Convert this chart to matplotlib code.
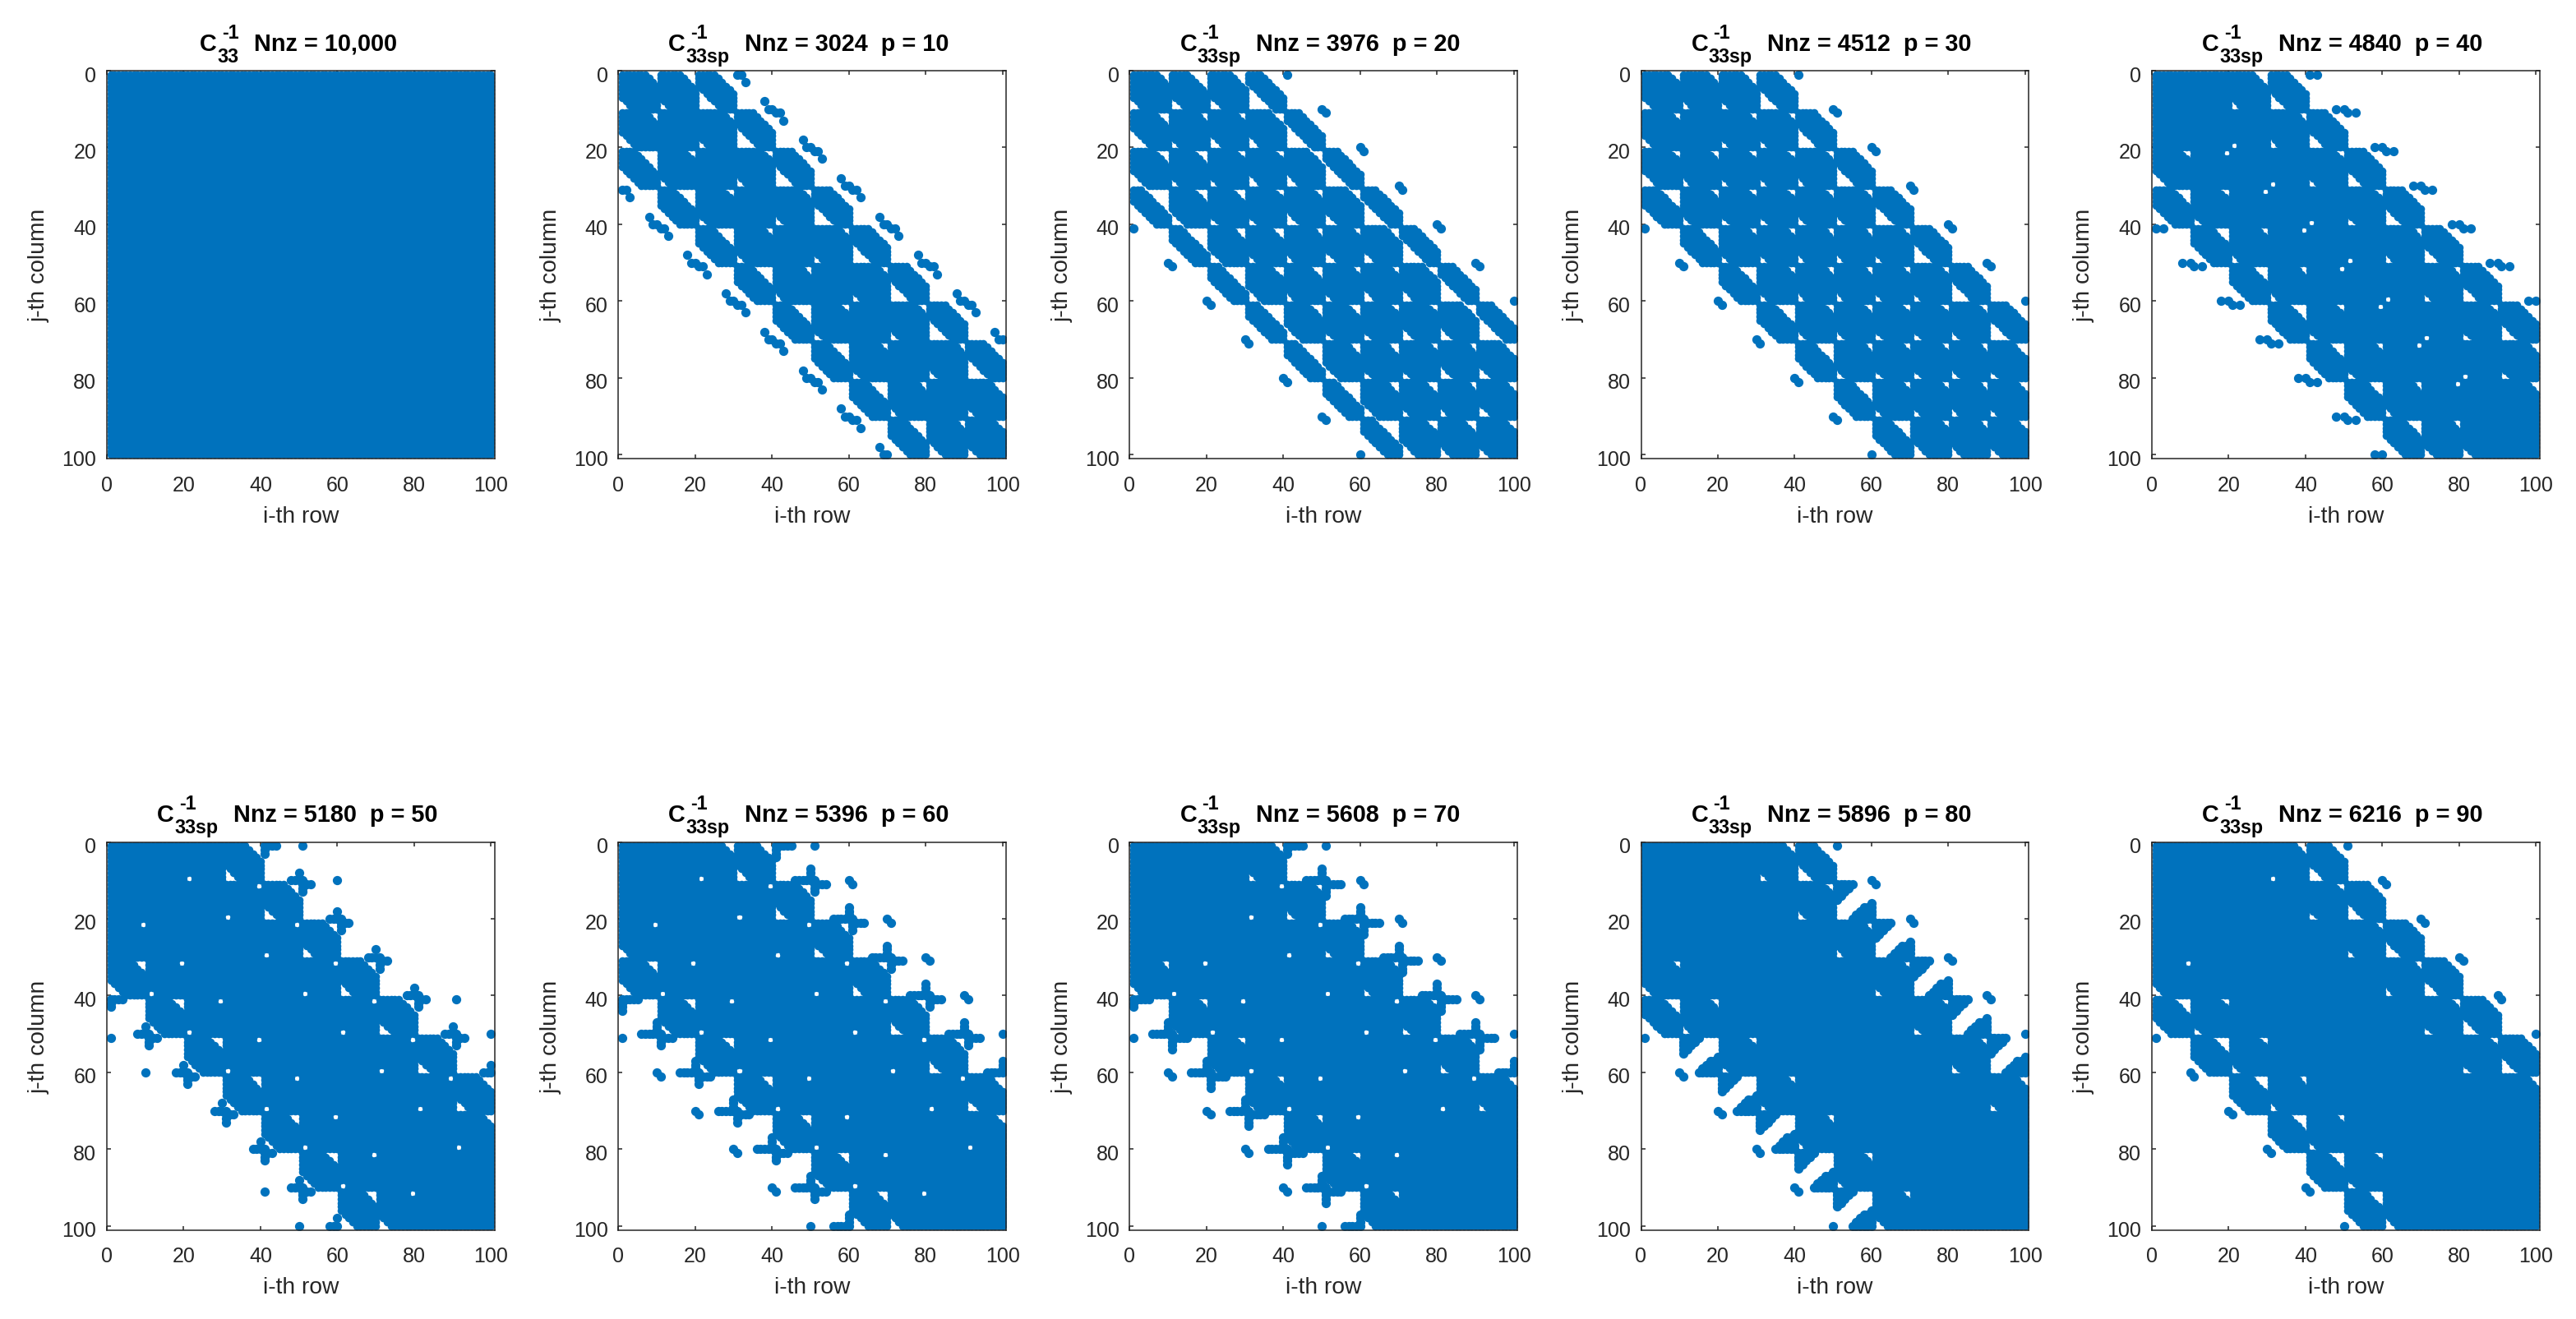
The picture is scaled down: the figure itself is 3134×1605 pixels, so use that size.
import numpy as np
import matplotlib
matplotlib.use("Agg")
import matplotlib.pyplot as plt
from matplotlib.transforms import ScaledTranslation

plt.rcParams['font.family'] = ['Liberation Sans', 'DejaVu Sans']

# for every row the last filled column of the band,
# triangles cut out of it (column, row, size), small square holes (column, row),
# extra runs (row, first column, last column) and lone points (column, row).
# band and holes are symmetric, the runs and points come back below the
# diagonal as the same shape moved down-left by a fixed step
p_values = [10, 20, 30, 40, 50, 60, 70, 80, 90]
nnz_values = [3024, 3976, 4512, 4840, 5180, 5396, 5608, 5896, 6216]

edge_full = [100] * 100

edge_p10 = [25, 26, 27, 28, 29, 30, 30, 30, 30, 30,
            35, 36, 37, 38, 39, 40, 40, 40, 40, 40,
            45, 46, 47, 48, 49, 50, 50, 50, 50, 50,
            55, 56, 57, 58, 59, 60, 60, 60, 60, 60,
            65, 66, 67, 68, 69, 70, 70, 70, 70, 70,
            75, 76, 77, 78, 79, 80, 80, 80, 80, 80,
            85, 86, 87, 88, 89, 90, 90, 90, 90, 90,
            95, 96, 97, 98, 99, 100, 100, 100, 100, 100] + [100] * 20
left_p10 = [(21, 10, 6), (31, 20, 6), (41, 30, 6), (51, 40, 6), (61, 50, 6), (71, 60, 6), (81, 70, 6), (91, 80, 6),
            (11, 10, 3), (21, 20, 3), (31, 30, 3), (41, 40, 3), (51, 50, 3), (61, 60, 3), (71, 70, 3), (81, 80, 3), (91, 90, 3)]
right_p10 = [(10, 1, 3), (20, 1, 4),
             (30, 11, 3), (40, 21, 3), (50, 31, 3), (60, 41, 3), (70, 51, 3), (80, 61, 3), (90, 71, 3), (100, 81, 4), (100, 91, 3)]
dots_p10 = [(31, 1), (32, 1), (33, 3),
            (38, 8), (39, 10), (40, 10), (41, 11), (42, 11), (43, 13),
            (48, 18), (49, 20), (50, 20), (51, 21), (52, 21), (53, 23),
            (58, 28), (59, 30), (60, 30), (61, 31), (62, 31), (63, 33),
            (68, 38), (69, 40), (70, 40), (71, 41), (72, 41), (73, 43),
            (78, 48), (79, 50), (80, 50), (81, 51), (82, 51), (83, 53),
            (88, 58), (89, 60), (90, 60), (91, 61), (92, 61), (93, 63),
            (98, 68), (99, 70), (100, 70)]

edge_p20 = [34, 35, 36, 37, 38, 39, 40, 40, 40, 40,
            44, 45, 46, 47, 48, 49, 50, 50, 50, 50,
            54, 55, 56, 57, 58, 59, 60, 60, 60, 60,
            64, 65, 66, 67, 68, 69, 70, 70, 70, 70,
            74, 75, 76, 77, 78, 79, 80, 80, 80, 80,
            84, 85, 86, 87, 88, 89, 90, 90, 90, 90,
            94, 95, 96, 97, 98, 99, 100, 100, 100, 100] + [100] * 30
left_p20 = [(31, 10, 7), (41, 20, 7), (51, 30, 7), (61, 40, 7), (71, 50, 7), (81, 60, 7), (91, 70, 7),
            (21, 10, 4), (31, 20, 4), (41, 30, 4), (51, 40, 4), (61, 50, 4), (71, 60, 4), (81, 70, 4), (91, 80, 4),
            (11, 10, 4), (21, 20, 4), (31, 30, 4), (41, 40, 4), (51, 50, 4), (61, 60, 4), (71, 70, 4), (81, 80, 4), (91, 90, 4)]
right_p20 = [(10, 1, 3), (20, 1, 5), (30, 1, 4),
             (40, 11, 4), (50, 21, 4), (60, 31, 4), (70, 41, 4), (80, 51, 4), (90, 61, 4), (100, 71, 4),
             (30, 11, 3), (40, 21, 3), (50, 31, 3), (60, 41, 3), (70, 51, 3), (80, 61, 3), (90, 71, 3), (100, 81, 3),
             (20, 11, 3), (30, 21, 3), (40, 31, 3), (50, 41, 3), (60, 51, 3), (70, 61, 3), (80, 71, 3), (90, 81, 3), (100, 91, 3)]
dots_p20 = [(41, 1), (50, 10), (51, 11), (60, 20), (61, 21), (70, 30), (71, 31),
            (80, 40), (81, 41), (90, 50), (91, 51), (100, 60)]

edge_p30 = [35, 36, 37, 38, 39, 40, 40, 40, 40, 40,
            45, 46, 47, 48, 49, 50, 50, 50, 50, 50,
            55, 56, 57, 58, 59, 60, 60, 60, 60, 60,
            65, 66, 67, 68, 69, 70, 70, 70, 70, 70,
            75, 76, 77, 78, 79, 80, 80, 80, 80, 80,
            85, 86, 87, 88, 89, 90, 90, 90, 90, 90,
            95, 96, 97, 98, 99, 100, 100, 100, 100, 100] + [100] * 30
left_p30 = [(31, 10, 6), (41, 20, 6), (51, 30, 6), (61, 40, 6), (71, 50, 6), (81, 60, 6), (91, 70, 6),
            (21, 10, 3), (31, 20, 3), (41, 30, 3), (51, 40, 3), (61, 50, 3), (71, 60, 3), (81, 70, 3), (91, 80, 3),
            (11, 10, 3), (21, 20, 3), (31, 30, 3), (41, 40, 3), (51, 50, 3), (61, 60, 3), (71, 70, 3), (81, 80, 3), (91, 90, 3)]
right_p30 = [(10, 1, 3), (20, 1, 3), (30, 1, 4),
             (40, 11, 3), (50, 21, 3), (60, 31, 3), (70, 41, 3), (80, 51, 3), (90, 61, 3), (100, 71, 4),
             (30, 11, 3), (40, 21, 3), (50, 31, 3), (60, 41, 3), (70, 51, 3), (80, 61, 3), (90, 71, 3), (100, 81, 3),
             (30, 21, 3), (40, 31, 3), (50, 41, 3), (60, 51, 3), (70, 61, 3), (80, 71, 3), (90, 81, 3), (100, 91, 3)]
dots_p30 = [(41, 1), (50, 10), (51, 11), (60, 20), (61, 21), (70, 30), (71, 31),
            (80, 40), (81, 41), (90, 50), (91, 51), (100, 60)]

edge_p40 = [35, 36, 37, 38, 39, 40, 40, 40, 40, 40,
            45, 46, 47, 48, 49, 50, 50, 50, 50, 50,
            55, 56, 57, 58, 59, 60, 60, 60, 60, 60,
            65, 66, 67, 68, 69, 70, 70, 70, 70, 70,
            75, 76, 77, 78, 79, 80, 80, 80, 80, 80,
            85, 86, 87, 88, 89, 90, 90, 90, 90, 90,
            95, 96, 97, 98, 99, 100, 100, 100, 100, 100] + [100] * 30
left_p40 = [(31, 10, 5), (41, 20, 5), (51, 30, 5), (61, 40, 5), (71, 50, 5), (81, 60, 5), (91, 70, 5),
            (21, 10, 3), (31, 20, 3), (41, 30, 3), (51, 40, 3), (61, 50, 3), (71, 60, 3), (81, 70, 3), (91, 80, 3)]
right_p40 = [(30, 1, 4),
             (40, 11, 3), (50, 21, 3), (60, 31, 3), (70, 41, 3), (80, 51, 3), (90, 61, 3), (100, 71, 3), (100, 81, 3)]
square_p40 = [(21, 20), (31, 30), (41, 40), (51, 50), (61, 60), (71, 70), (81, 80)]
dots_p40 = [(41, 1), (43, 1), (48, 10), (50, 10), (51, 11), (53, 11),
            (58, 20), (60, 20), (61, 21), (63, 21), (68, 30), (70, 30), (71, 31), (73, 31),
            (78, 40), (80, 40), (81, 41), (83, 41), (88, 50), (90, 50), (91, 51), (93, 51),
            (98, 60), (100, 60)]

edge_p50 = [40] * 10 + [50] * 10 + [60] * 10 + [70] * 10 + [80] * 10 + [90] * 10 + [100] * 40
left_p50 = [(31, 10, 4), (41, 20, 4), (51, 30, 4), (61, 40, 4), (71, 50, 4), (81, 60, 4), (91, 70, 4)]
right_p50 = [(40, 1, 4),
             (50, 11, 4), (60, 21, 4), (70, 31, 4), (80, 41, 4), (90, 51, 4), (100, 61, 4), (100, 71, 3)]
square_p50 = [(21, 10), (31, 20), (41, 30), (51, 40), (61, 50), (71, 60), (81, 70), (91, 80),
              (39, 12), (49, 22), (59, 32), (69, 42), (79, 52), (89, 62)]
runs_p50 = [(1, 41, 44), (2, 41, 41), (3, 41, 41),
            (8, 50, 50), (10, 48, 51), (11, 51, 53), (12, 51, 51), (13, 51, 51),
            (18, 60, 60), (20, 58, 61), (21, 61, 63), (22, 61, 61), (23, 61, 61),
            (28, 70, 70), (30, 68, 71), (31, 71, 73), (32, 71, 71), (33, 71, 71),
            (38, 80, 80), (40, 78, 81), (41, 81, 83), (42, 81, 81), (43, 81, 81),
            (48, 90, 90), (50, 88, 91), (51, 91, 93), (52, 91, 91), (53, 91, 91),
            (58, 100, 100), (60, 98, 100)]
dots_p50 = [(51, 1), (60, 10), (91, 41), (100, 50)]

edge_p60 = [40] * 10 + [50] * 10 + [60] * 10 + [70] * 10 + [80] * 10 + [90] * 10 + [100] * 40
left_p60 = [(31, 10, 4), (41, 20, 4), (51, 30, 4), (61, 40, 4), (71, 50, 4), (81, 60, 4), (91, 70, 4)]
right_p60 = [(30, 1, 3), (40, 1, 4),
             (50, 11, 4), (60, 21, 4), (70, 31, 4), (80, 41, 4), (90, 51, 4), (100, 61, 4), (100, 71, 3)]
square_p60 = [(21, 10), (31, 20), (41, 30), (51, 40), (61, 50), (71, 60), (81, 70), (91, 80),
              (39, 12), (49, 22), (59, 32), (69, 42), (79, 52), (89, 62)]
runs_p60 = [(1, 41, 45), (2, 41, 41), (3, 41, 41), (4, 41, 41),
            (7, 50, 50), (8, 50, 50), (9, 50, 50), (10, 46, 51), (11, 51, 54), (12, 51, 51), (13, 51, 51),
            (17, 60, 60), (18, 60, 60), (19, 60, 60), (20, 56, 61), (21, 61, 64), (22, 61, 61), (23, 61, 61),
            (27, 70, 70), (28, 70, 70), (29, 70, 70), (30, 66, 71), (31, 71, 74), (32, 71, 71), (33, 71, 71),
            (37, 80, 80), (38, 80, 80), (39, 80, 80), (40, 76, 81), (41, 81, 84), (42, 81, 81), (43, 81, 81),
            (47, 90, 90), (48, 90, 90), (49, 90, 90), (50, 86, 91), (51, 91, 94), (52, 91, 91), (53, 91, 91),
            (57, 100, 100), (58, 100, 100), (59, 100, 100), (60, 96, 100)]
dots_p60 = [(51, 1), (60, 10), (61, 11), (70, 20), (71, 21), (80, 30), (81, 31),
            (90, 40), (91, 41), (100, 50)]

edge_p70 = [40] * 10 + [50] * 10 + [60] * 10 + [70] * 10 + [80] * 10 + [90] * 10 + [100] * 40
left_p70 = [(31, 10, 3), (41, 20, 3), (51, 30, 3), (61, 40, 3), (71, 50, 3), (81, 60, 3), (91, 70, 3)]
right_p70 = [(40, 1, 3),
             (50, 11, 3), (60, 21, 3), (70, 31, 3), (80, 41, 3), (90, 51, 3), (100, 61, 3)]
square_p70 = [(31, 20), (41, 30), (51, 40), (61, 50), (71, 60), (81, 70),
              (39, 12), (49, 22), (59, 32), (69, 42), (79, 52), (89, 62)]
runs_p70 = [(1, 41, 45), (2, 41, 41), (3, 41, 41),
            (7, 50, 50), (8, 50, 50), (9, 50, 50), (10, 46, 51), (11, 51, 55), (12, 51, 51), (13, 51, 51), (14, 51, 51),
            (17, 60, 60), (18, 60, 60), (19, 60, 60), (20, 56, 61), (21, 61, 65), (22, 61, 61), (23, 61, 61), (24, 61, 61),
            (27, 70, 70), (28, 70, 70), (29, 70, 70), (30, 66, 71), (31, 71, 75), (32, 71, 71), (33, 71, 71), (34, 71, 71),
            (37, 80, 80), (38, 80, 80), (39, 80, 80), (40, 76, 81), (41, 81, 85), (42, 81, 81), (43, 81, 81), (44, 81, 81),
            (47, 90, 90), (48, 90, 90), (49, 90, 90), (50, 86, 91), (51, 91, 95), (52, 91, 91), (53, 91, 91), (54, 91, 91),
            (57, 100, 100), (58, 100, 100), (59, 100, 100), (60, 96, 100)]
dots_p70 = [(51, 1), (60, 10), (61, 11), (70, 20), (71, 21), (80, 30), (81, 31),
            (90, 40), (91, 41), (100, 50)]

edge_p80 = [45, 46, 47, 48, 49] + [50] * 15 + [60] * 10 + [70] * 10 + [80] * 10 + [90] * 10 + [100] * 40
left_p80 = [(41, 10, 5), (91, 60, 5),
            (31, 10, 3), (41, 20, 3), (51, 30, 3), (61, 40, 3), (71, 50, 3), (81, 60, 3), (91, 70, 3)]
right_p80 = [(40, 1, 3),
             (50, 11, 3), (60, 21, 3), (70, 31, 3), (80, 41, 3), (90, 51, 3), (100, 61, 3)]
runs_p80 = [(11, 51, 55), (12, 51, 54), (13, 51, 53), (14, 51, 52), (15, 51, 51),
            (16, 60, 60), (17, 58, 60), (18, 57, 60), (19, 56, 60), (20, 55, 60),
            (21, 61, 65), (22, 61, 64), (23, 61, 63), (24, 61, 62), (25, 61, 61),
            (26, 70, 70), (27, 68, 70), (28, 67, 70), (29, 66, 70), (30, 65, 70),
            (31, 71, 75), (32, 71, 74), (33, 71, 73), (34, 71, 72), (35, 71, 71),
            (36, 80, 80), (37, 78, 80), (38, 77, 80), (39, 76, 80), (40, 75, 80),
            (41, 81, 85), (42, 81, 84), (43, 81, 83), (44, 81, 82), (45, 81, 81),
            (46, 90, 90), (47, 88, 90), (48, 87, 90), (49, 86, 90), (50, 85, 90),
            (51, 91, 95), (52, 91, 94), (53, 91, 93), (54, 91, 92), (55, 91, 91),
            (56, 100, 100), (57, 98, 100), (58, 97, 100), (59, 96, 100), (60, 95, 100)]
dots_p80 = [(51, 1), (60, 10), (61, 11), (70, 20), (71, 21), (80, 30), (81, 31),
            (90, 40), (91, 41), (100, 50)]

edge_p90 = [46, 47, 48, 49, 50, 50, 50, 50, 50, 50,
            56, 57, 58, 59, 60, 60, 60, 60, 60, 60,
            66, 67, 68, 69, 70, 70, 70, 70, 70, 70,
            76, 77, 78, 79, 80, 80, 80, 80, 80, 80,
            86, 87, 88, 89, 90, 90, 90, 90, 90, 90,
            96, 97, 98, 99, 100, 100, 100, 100, 100, 100] + [100] * 40
left_p90 = [(41, 10, 5), (51, 20, 5), (61, 30, 5), (71, 40, 5), (81, 50, 5), (91, 60, 5),
            (41, 20, 3), (51, 30, 3), (61, 40, 3), (71, 50, 3), (81, 60, 3)]
right_p90 = [(40, 1, 3),
             (50, 11, 3), (60, 21, 3), (70, 31, 3), (80, 41, 3), (90, 51, 3), (100, 61, 3)]
square_p90 = [(31, 10)]
dots_p90 = [(51, 1), (60, 10), (61, 11), (70, 20), (71, 21), (80, 30), (81, 31),
            (90, 40), (91, 41), (100, 50)]

tick_values = [0, 20, 40, 60, 80, 100]
spy_color = '#0072BD'
text_color = '#262626'

W = 3134
H = 1606
DPI = 200
PT = 72.0 / DPI  # one pixel in points
col_lefts = [130, 752.3, 1374.4, 1996.5, 2618]
row_tops = [87, 1025.5]
side = 472


def build(edge, left=(), right=(), square=(), runs=(), run_step=0, dots=(), dot_step=0):
    m = np.zeros((102, 102), dtype=bool)
    for j in range(1, 101):
        m[j, j:edge[j - 1] + 1] = True
    for i, j, n in left:
        for k in range(n):
            m[j - k, i:min(i + n - k, 101)] = False
    for i, j, n in right:
        for k in range(n):
            m[j + k, max(i - n + 1 + k, 0):i + 1] = False
    for i, j in square:
        m[j - 1:j + 1, i:i + 2] = False
    m = m | m.T
    # runs and lone points are kept apart, they look a little bigger than the packed band
    d = np.zeros((102, 102), dtype=bool)
    for j, c0, c1 in runs:
        d[j, c0:c1 + 1] = True
        for c in range(c0, c1 + 1):
            if c - run_step >= 1 and j + run_step <= 100:
                d[j + run_step, c - run_step] = True
    for i, j in dots:
        d[j, i] = True
        if i - dot_step >= 1 and j + dot_step <= 100:
            d[j + dot_step, i - dot_step] = True
    return m, d


def spy_panel(pos, data):
    m, d = data
    ax = fig.add_axes([pos[0] / W, 1 - (pos[1] + side) / H, side / W, side / H])
    jj, ii = np.nonzero(m)
    ax.plot(ii, jj, linestyle='none', marker='o', ms=3.45, mew=0, color=spy_color)
    jj, ii = np.nonzero(d)
    ax.plot(ii, jj, linestyle='none', marker='o', ms=4.05, mew=0, color=spy_color)
    ax.set_xlim(0, 101)
    ax.set_ylim(101, 0)
    ax.set_xticks(tick_values)
    ax.set_yticks(tick_values)
    ax.tick_params(direction='in', top=True, right=True, length=1.7, width=0.55,
                   labelsize=9, colors=text_color)
    ax.tick_params(axis='x', pad=7.2)
    ax.tick_params(axis='y', pad=4.6)
    # y labels sit a few pixels under their ticks in the reference
    shift = ScaledTranslation(0, -3.0 / DPI, fig.dpi_scale_trans)
    for lab in ax.get_yticklabels():
        lab.set_transform(lab.get_transform() + shift)
    for s in ax.spines.values():
        s.set_linewidth(0.55)
        s.set_color(text_color)
    ax.set_xlabel('i-th row', fontsize=10.2, color=text_color, va='center')
    ax.xaxis.set_label_coords(0.5, -70.0 / side)
    ax.set_ylabel('j-th column', fontsize=10.2, color=text_color, va='center')
    ax.yaxis.set_label_coords(-82.0 / side, 0.5)
    return ax


def head(ax, dx, dy, txt, size):
    ax.annotate(txt, xy=(0.5, 1), xycoords='axes fraction', xytext=(dx * PT, dy * PT),
                textcoords='offset points', ha='left', va='baseline',
                fontsize=size, fontweight='bold', color='black', annotation_clip=False)


def sparse_title(ax, p, nnz):
    head(ax, -175, 25.5, 'C', 10.4)
    head(ax, -148, 40, '-1', 8.4)
    head(ax, -154, 11, '33sp', 8.4)
    head(ax, -82, 25.5, 'Nnz = %d  p = %d' % (nnz, p), 10.4)


fig = plt.figure(figsize=(W / DPI, H / DPI), dpi=DPI)

ax = spy_panel((col_lefts[0], row_tops[0]), build(edge_full))
head(ax, -123, 25.5, 'C', 10.4)
head(ax, -96, 40, '-1', 8.4)
head(ax, -102, 11, '33', 8.4)
head(ax, -57, 25.5, 'Nnz = 10,000', 10.4)

matrices = [
    build(edge_p10, left_p10, right_p10, dots=dots_p10, dot_step=30),
    build(edge_p20, left_p20, right_p20, dots=dots_p20, dot_step=40),
    build(edge_p30, left_p30, right_p30, dots=dots_p30, dot_step=40),
    build(edge_p40, left_p40, right_p40, square_p40, dots=dots_p40, dot_step=40),
    build(edge_p50, left_p50, right_p50, square_p50, runs_p50, 40, dots_p50, 50),
    build(edge_p60, left_p60, right_p60, square_p60, runs_p60, 40, dots_p60, 50),
    build(edge_p70, left_p70, right_p70, square_p70, runs_p70, 40, dots_p70, 50),
    build(edge_p80, left_p80, right_p80, runs=runs_p80, run_step=40, dots=dots_p80, dot_step=50),
    build(edge_p90, left_p90, right_p90, square_p90, dots=dots_p90, dot_step=50),
]

positions = [(col_lefts[c], row_tops[0]) for c in range(1, 5)] + [(x, row_tops[1]) for x in col_lefts]
for k in range(9):
    ax = spy_panel(positions[k], matrices[k])
    sparse_title(ax, p_values[k], nnz_values[k])

fig.savefig('out.png', dpi=DPI)
